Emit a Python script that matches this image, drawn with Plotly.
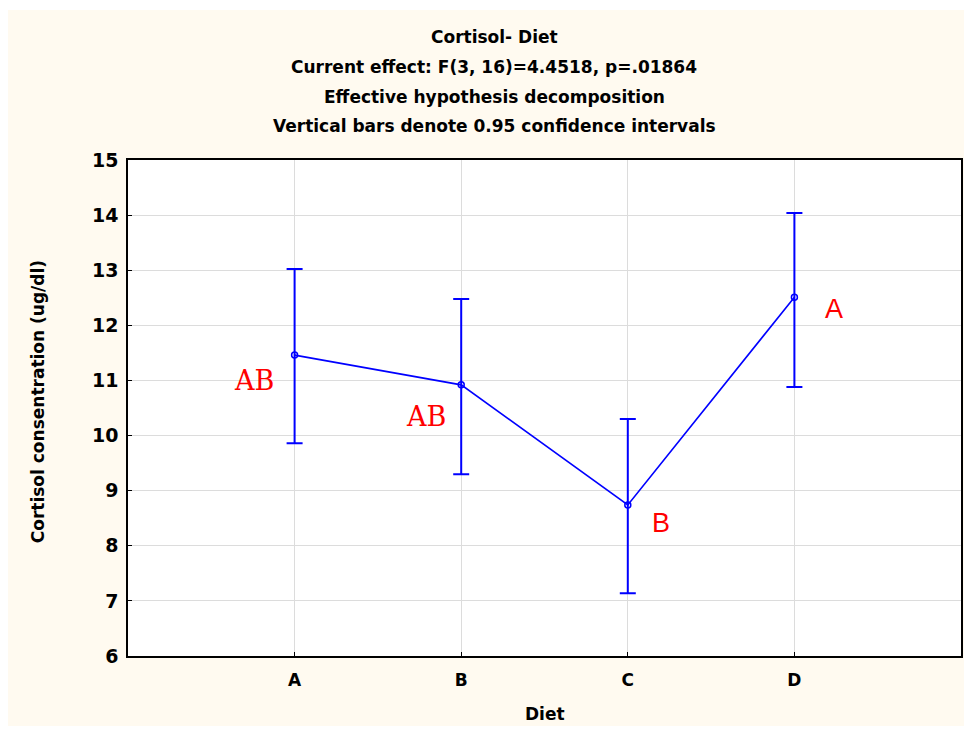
import plotly.graph_objects as go

# ---- data ----
diets = ["A", "B", "C", "D"]
means = [11.46, 10.92, 8.74, 12.51]
ci_upper = [13.02, 12.48, 10.30, 14.04]
ci_lower = [9.86, 9.30, 7.14, 10.88]
group_letters = ["AB", "AB", "B", "A"]
y_ticks = [6, 7, 8, 9, 10, 11, 12, 13, 14, 15]
title_lines = [
    "Cortisol- Diet",
    "Current effect: F(3, 16)=4.4518, p=.01864",
    "Effective hypothesis decomposition",
    "Vertical bars denote 0.95 confidence intervals",
]

idx = list(range(len(diets)))
err_plus = [u - m for u, m in zip(ci_upper, means)]
err_minus = [m - l for m, l in zip(means, ci_lower)]

BLUE = "#0000FF"
CREAM = "#FFFAF0"
FONT = "DejaVu Sans"

fig = go.Figure()
fig.add_trace(go.Scatter(
    x=idx, y=means, mode="lines+markers",
    line=dict(color=BLUE, width=1.6),
    marker=dict(symbol="circle-open", size=6, color=BLUE, line=dict(width=1.5)),
    error_y=dict(type="data", symmetric=False, array=err_plus, arrayminus=err_minus,
                 color=BLUE, thickness=2, width=8),
    showlegend=False,
))

# group letter annotations (offsets relative to each point)
letter_offsets = [(-0.245, -0.46, "DejaVu Serif"), (-0.21, -0.58, "DejaVu Serif"),
                  (0.2, -0.33, "Liberation Sans"), (0.24, -0.21, "Liberation Sans")]
annotations = []
for i, (lab, m) in enumerate(zip(group_letters, means)):
    dx, dy, fam = letter_offsets[i]
    annotations.append(dict(x=i + dx, y=m + dy, xref="x", yref="y", text=lab,
                            xanchor="center", yanchor="middle",
                            showarrow=False, font=dict(family=fam, size=27, color="red")))

# title lines
title_y = [1.248, 1.1875, 1.127, 1.0685]
for t, yy in zip(title_lines, title_y):
    annotations.append(dict(x=0.4395, y=yy, xref="paper", yref="paper", text="<b>%s</b>" % t,
                            xanchor="center", yanchor="middle",
                            showarrow=False, font=dict(family=FONT, size=17, color="black")))

annotations.append(dict(x=-0.1078, y=0.512, xref="paper", yref="paper",
                        text="<b>Cortisol consentration (ug/dl)</b>", textangle=-90,
                        xanchor="center", yanchor="middle",
                        showarrow=False, font=dict(family=FONT, size=17, color="black")))
annotations.append(dict(x=0.5006, y=-0.117, xref="paper", yref="paper",
                        text="<b>Diet</b>", showarrow=False,
                        xanchor="center", yanchor="middle",
                        font=dict(family=FONT, size=17, color="black")))

# white border strips around the cream panel
shapes = [
    dict(type="rect", xref="paper", yref="paper", x0=-0.3, x1=1.2, y0=1.3024, y1=1.5,
         fillcolor="white", line=dict(width=0), layer="below"),
    dict(type="rect", xref="paper", yref="paper", x0=-0.3, x1=1.2, y0=-0.3, y1=-0.1411,
         fillcolor="white", line=dict(width=0), layer="below"),
    dict(type="rect", xref="paper", yref="paper", x0=1.006, x1=1.2, y0=-0.3, y1=1.5,
         fillcolor="white", line=dict(width=0), layer="below"),
]

fig.update_layout(
    width=964, height=723,
    margin=dict(l=120, r=9, t=152, b=75),
    paper_bgcolor=CREAM, plot_bgcolor="white",
    annotations=annotations, shapes=shapes,
    xaxis=dict(range=[-1, 4], tickmode="array", tickvals=idx, ticktext=["<b>%s</b>" % d for d in diets],
               showgrid=True, gridcolor="#DCDCDC", gridwidth=1, zeroline=False,
               showline=True, linecolor="black", linewidth=1.5, mirror=True,
               ticks="inside", ticklen=4, tickcolor="black", ticklabelstandoff=8,
               tickfont=dict(family=FONT, size=17, color="black")),
    yaxis=dict(range=[6, 15], tickmode="array", tickvals=y_ticks,
               ticktext=["<b>%d</b>" % v for v in y_ticks],
               showgrid=True, gridcolor="#DCDCDC", gridwidth=1, zeroline=False,
               showline=True, linecolor="black", linewidth=1.5, mirror=True,
               ticks="inside", ticklen=4, tickcolor="black", ticklabelstandoff=4,
               tickfont=dict(family=FONT, size=19, color="black")),
)

fig.write_html("out.html")
